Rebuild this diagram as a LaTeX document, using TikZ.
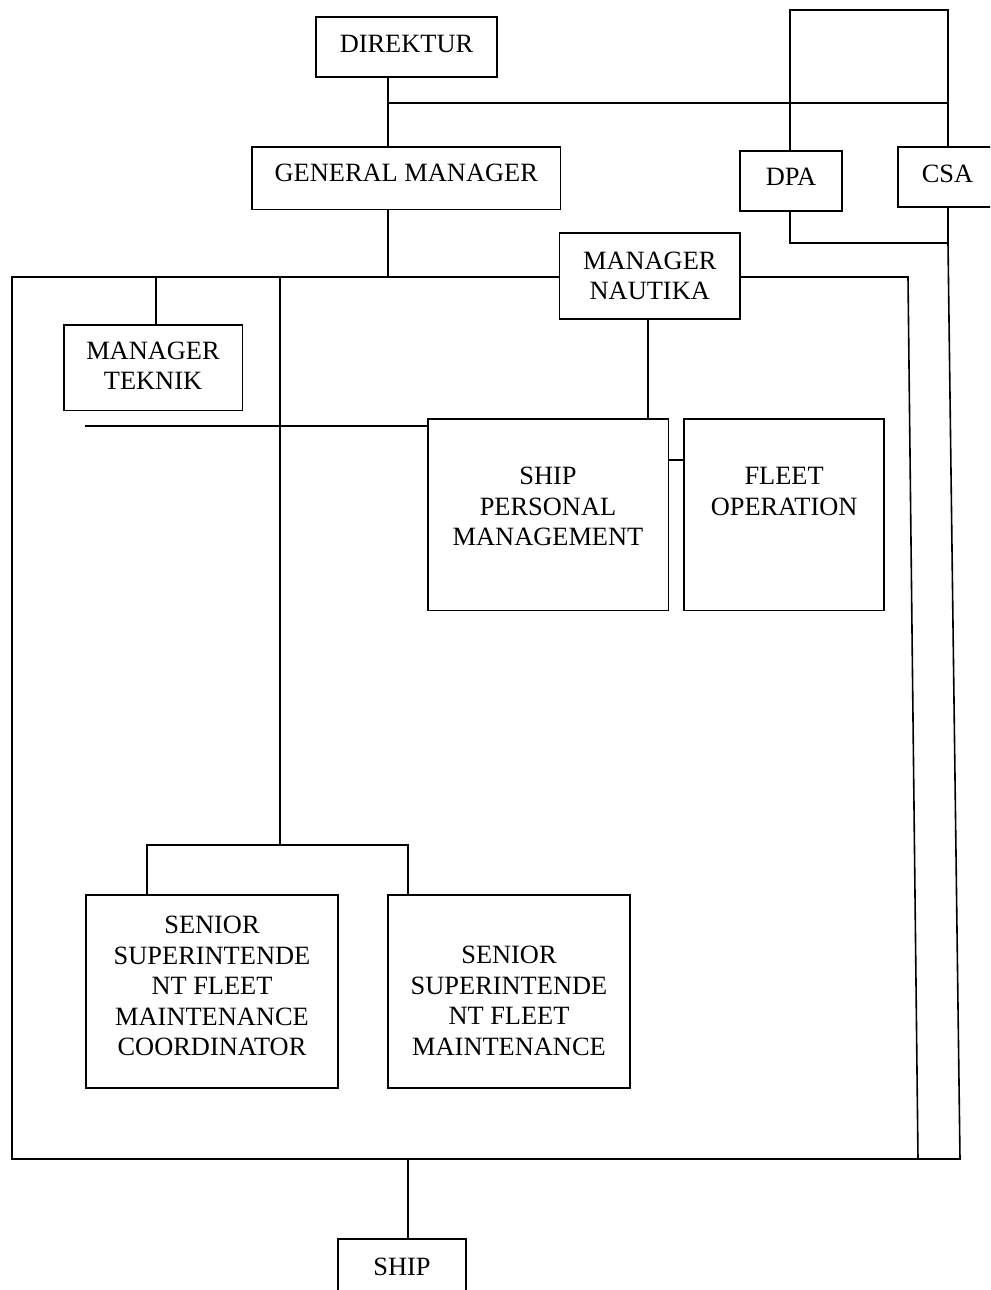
\documentclass[tikz,border=0pt]{standalone}
\usepackage{fontspec}
\setmainfont{Liberation Serif}
\tikzset{
  ln/.style={line width=1.2pt},
  box/.style={draw,line width=1.2pt,inner sep=0pt,fill=white},
  sz/.style n args={2}{minimum width=#1*0.75pt,minimum height=#2*0.75pt},
  lbl/.style={align=center,inner sep=0pt}}
\begin{document}
\begin{tikzpicture}[x=0.75pt,y=-0.75pt,
  every node/.style={font=\fontsize{19.8}{22.9}\selectfont}]
\useasboundingbox (0,0) rectangle (990,1290);
\clip (0,0) rectangle (990,1290);

% coordinates
\coordinate (j1) at (388,102.7);
\coordinate (j2) at (948,102.7);
\coordinate (tl) at (790,10);
\coordinate (tr) at (948,10);
\coordinate (cb) at (948,243);
\coordinate (ftl) at (12,277);
\coordinate (ftr) at (908,277);
\coordinate (fbl) at (12,1159);
\coordinate (fbi) at (918,1159);
\coordinate (fbr) at (960,1159);
\coordinate (jg) at (388,277);
\coordinate (cmt) at (156,277);
\coordinate (v1) at (280,277);
\coordinate (v2) at (280,845);
\coordinate (b1) at (147,845);
\coordinate (b2) at (408,845);
\coordinate (h1) at (85,426);
\coordinate (cmn) at (648,300);
\coordinate (k) at (676,460);
\coordinate (sb) at (408,1159);

% boxes
\node[box,sz={181}{60},label={[lbl,yshift=2.4pt]center:DIREKTUR}] (dir) at (406.5,46.7) {};
\node[box,sz={308.7}{62.6},label={[lbl,yshift=3.5pt]center:GENERAL MANAGER}] (gm) at (406.3,178) {};
\node[box,sz={102}{60},label={[lbl,yshift=2.8pt]center:DPA}] (dpa) at (791,180.7) {};
\node[box,sz={99}{60},label={[lbl,yshift=2pt]center:CSA}] (csa) at (947.5,176.7) {};
\node[box,sz={180.3}{86},label={[lbl]center:MANAGER\\NAUTIKA}] (mn) at (649.8,275.7) {};
\node[box,sz={178.6}{85.7},label={[lbl,yshift=1.5pt]center:MANAGER\\TEKNIK}] (mt) at (153,367.8) {};
\node[box,sz={240.6}{191.7},label={[lbl,yshift=6pt]center:SHIP\\PERSONAL\\MANAGEMENT}] (spm) at (548,514.8) {};
\node[box,sz={200.3}{191.7},label={[lbl,yshift=17.4pt]center:FLEET\\OPERATION}] (fo) at (784.1,514.8) {};
\node[box,sz={252}{193},label={[lbl,yshift=4.1pt]center:SENIOR\\SUPERINTENDE\\NT FLEET\\MAINTENANCE\\COORDINATOR}] (ss1) at (212,991.5) {};
\node[box,sz={242}{193},label={[lbl,yshift=-7.1pt]center:SENIOR\\SUPERINTENDE\\NT FLEET\\MAINTENANCE}] (ss2) at (509,991.5) {};
\node[box,sz={128}{56}] (ship) at (402,1267) {SHIP};

% connectors
\draw[ln] (dir.south -| j1) -- (gm.north -| j1);
\draw[ln] (j1) -- (j2);
\draw[ln] (dpa.north -| tl) -- (tl) -- (tr) -- (csa.north -| tr);
\draw[ln] (dpa.south -| tl) -- (tl |- cb) -- (cb);
\draw[ln] (csa.south -| tr) -- (cb) -- (fbr) -- (fbl) -- (ftl) -- (mn.west |- ftl);
\draw[ln] (mn.east |- ftr) -- (ftr) -- (fbi);
\draw[ln] (gm.south -| jg) -- (jg);
\draw[ln] (cmt) -- (cmt |- mt.north);
\draw[ln] (v1) -- (v2);
\draw[ln] (h1) -- (h1 -| spm.west);
\draw[ln] (mn.south -| cmn) -- (spm.north -| cmn);
\draw[ln] (spm.east |- k) -- (fo.west |- k);
\draw[ln] (b1 |- ss1.north) -- (b1) -- (b2) -- (b2 |- ss2.north);
\draw[ln] (sb) -- (ship.north -| sb);
\end{tikzpicture}
\end{document}
